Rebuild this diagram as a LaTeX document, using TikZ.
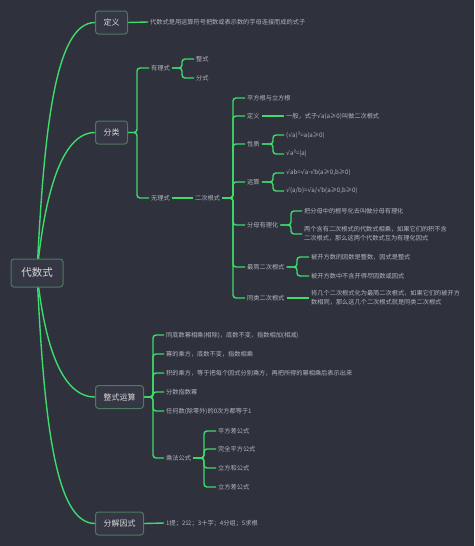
\documentclass[tikz,border=0pt]{standalone}
\usepackage{fontspec}
\setmainfont{Noto Sans CJK SC}
\newfontfamily\symf{DejaVu Sans}
\newcommand\sqr{{\symf √}}
\newcommand\mydot{{\symf ·}}
\usetikzlibrary{calc}
\definecolor{bg}{HTML}{2F313D}
\definecolor{ln}{HTML}{3EDB6C}
\definecolor{boxfill}{HTML}{353844}
\definecolor{boxdraw}{HTML}{4E7A62}
\definecolor{txt}{HTML}{DADADA}
\definecolor{leaft}{HTML}{B4B6BC}
\pgfdeclarelayer{back}
\pgfdeclarelayer{lines}
\pgfsetlayers{back,lines,main}
\begin{document}
\begin{tikzpicture}[x=1pt,y=-1pt,
 topic/.style={draw=boxdraw, fill=boxfill, rounded corners=3pt, line width=1pt, text=txt,
   font=\fontsize{8}{10}\selectfont, inner xsep=8pt, inner ysep=0pt, minimum height=23pt},
 leaf/.style={text=leaft, font=\fontsize{6.2}{9}\selectfont, inner sep=2pt, anchor=west, align=left},
 conn/.style={draw=ln, line width=1.4pt, rounded corners=3pt},
 curve/.style={draw=ln, line width=1.4pt}]
\begin{pgfonlayer}{back}
\fill[bg] (0,0) rectangle (474,546);
\end{pgfonlayer}
% main topics
\node[topic, minimum width=52pt, minimum height=28pt, font=\fontsize{10.5}{12}\selectfont] (root) at (37,273) {代数式};
\node[topic] (def) at (111.5,22.5) {定义};
\node[topic] (cls) at (111.5,132.5) {分类};
\node[topic] (zs) at (119.5,397) {整式运算};
\node[topic] (fj) at (119.5,523.5) {分解因式};
% definition
\node[leaf] (dtxt) at (148,22) {代数式是用运算符号把数或表示数的字母连接而成的式子};
% classification
\node[leaf] (yl) at (149,68) {有理式};
\node[leaf] (wl) at (149,198) {无理式};
\node[leaf] (zs1) at (194,59) {整式};
\node[leaf] (fs) at (194,78) {分式};
\node[leaf] (ec) at (193,198) {二次根式};
\node[leaf] (e1) at (245,98) {平方根与立方根};
\node[leaf] (e2) at (245,116) {定义};
\node[leaf] (e2a) at (284,116) {一般，式子\sqr a(a≥0)叫做二次根式};
\node[leaf] (e3) at (245,144) {性质};
\node[leaf] (e3a) at (284,135) {(\sqr a)²=a(a≥0)};
\node[leaf] (e3b) at (284,154) {\sqr a²=|a|};
\node[leaf] (e4) at (245,182) {运算};
\node[leaf] (e4a) at (284,173) {\sqr ab=\sqr a\mydot\sqr b(a≥0,b≥0)};
\node[leaf] (e4b) at (284,191) {\sqr(a/b)=\sqr a/\sqr b(a≥0,b≥0)};
\node[leaf] (e5) at (245,225) {分母有理化};
\node[leaf] (e5a) at (302,211) {把分母中的根号化去叫做分母有理化};
\node[leaf] (e5b) at (302,234) {两个含有二次根式的代数式相乘，如果它们的积不含\\二次根式，那么这两个代数式互为有理化因式};
\node[leaf] (e6) at (245,267) {最简二次根式};
\node[leaf] (e6a) at (309,257) {被开方数的因数是整数，因式是整式};
\node[leaf] (e6b) at (309,276) {被开方数中不含开得尽因数或因式};
\node[leaf] (e7) at (245,298) {同类二次根式};
\node[leaf] (e7a) at (309,298) {将几个二次根式化为最简二次根式，如果它们的被开方\\数相同，那么这几个二次根式就是同类二次根式};
% integral operations
\node[leaf] (z1) at (164,335) {同底数幂相乘(相除)，底数不变，指数相加(相减)};
\node[leaf] (z2) at (164,354) {幂的乘方，底数不变，指数相乘};
\node[leaf] (z3) at (164,373) {积的乘方，等于把每个因式分别乘方，再把所得的幂相乘后表示出来};
\node[leaf] (z4) at (164,392) {分数指数幂};
\node[leaf] (z5) at (164,411) {任何数(除零外)的0次方都等于1};
\node[leaf] (z6) at (164,458) {乘法公式};
\node[leaf] (m1) at (216,431) {平方差公式};
\node[leaf] (m2) at (216,449) {完全平方公式};
\node[leaf] (m3) at (216,468) {立方和公式};
\node[leaf] (m4) at (216,487) {立方差公式};
% factorisation
\node[leaf] (ftxt) at (164,523) {1提；2公；3十字；4分组；5求根};
% spine coordinates
\coordinate (clsv) at (137,132.5);
\coordinate (ylv) at (182,68);
\coordinate (ecv) at (233,198);
\coordinate (e3v) at (273,144);
\coordinate (e4v) at (273,182);
\coordinate (e5v) at (291,225);
\coordinate (e6v) at (297,267);
\coordinate (zsv) at (153,397);
\coordinate (z6v) at (204,458);
\begin{pgfonlayer}{lines}
\draw[curve] (root.center) .. controls (44,130) and (55,22.5) .. (def.west);
\draw[curve] (root.center) .. controls (44,200) and (60,132.5) .. (cls.west);
\draw[curve] (root.center) .. controls (44,340) and (60,397) .. (zs.west);
\draw[curve] (root.center) .. controls (44,420) and (55,523.5) .. (fj.west);
\draw[conn] (def.east) -- (dtxt.west);
\draw[conn] (cls.east) -- (clsv) |- (yl.west);
\draw[conn] (cls.east) -- (clsv) |- (wl.west);
\draw[conn] (yl.east) -- (ylv) |- (zs1.west);
\draw[conn] (yl.east) -- (ylv) |- (fs.west);
\draw[conn] (wl.east) -- (ec.west);
\foreach \c in {e1,e2,e3,e4,e5,e6,e7} \draw[conn] (ec.east) -- (ecv) |- (\c.west);
\draw[conn] (e2.east) -- (e2a.west);
\draw[conn] (e3.east) -- (e3v) |- (e3a.west);
\draw[conn] (e3.east) -- (e3v) |- (e3b.west);
\draw[conn] (e4.east) -- (e4v) |- (e4a.west);
\draw[conn] (e4.east) -- (e4v) |- (e4b.west);
\draw[conn] (e5.east) -- (e5v) |- (e5a.west);
\draw[conn] (e5.east) -- (e5v) |- (e5b.west);
\draw[conn] (e6.east) -- (e6v) |- (e6a.west);
\draw[conn] (e6.east) -- (e6v) |- (e6b.west);
\draw[conn] (e7.east) -- (e7a.west);
\foreach \c in {z1,z2,z3,z4,z5,z6} \draw[conn] (zs.east) -- (zsv) |- (\c.west);
\foreach \c in {m1,m2,m3,m4} \draw[conn] (z6.east) -- (z6v) |- (\c.west);
\draw[conn] (fj.east) -- (ftxt.west);
\end{pgfonlayer}
\end{tikzpicture}
\end{document}
